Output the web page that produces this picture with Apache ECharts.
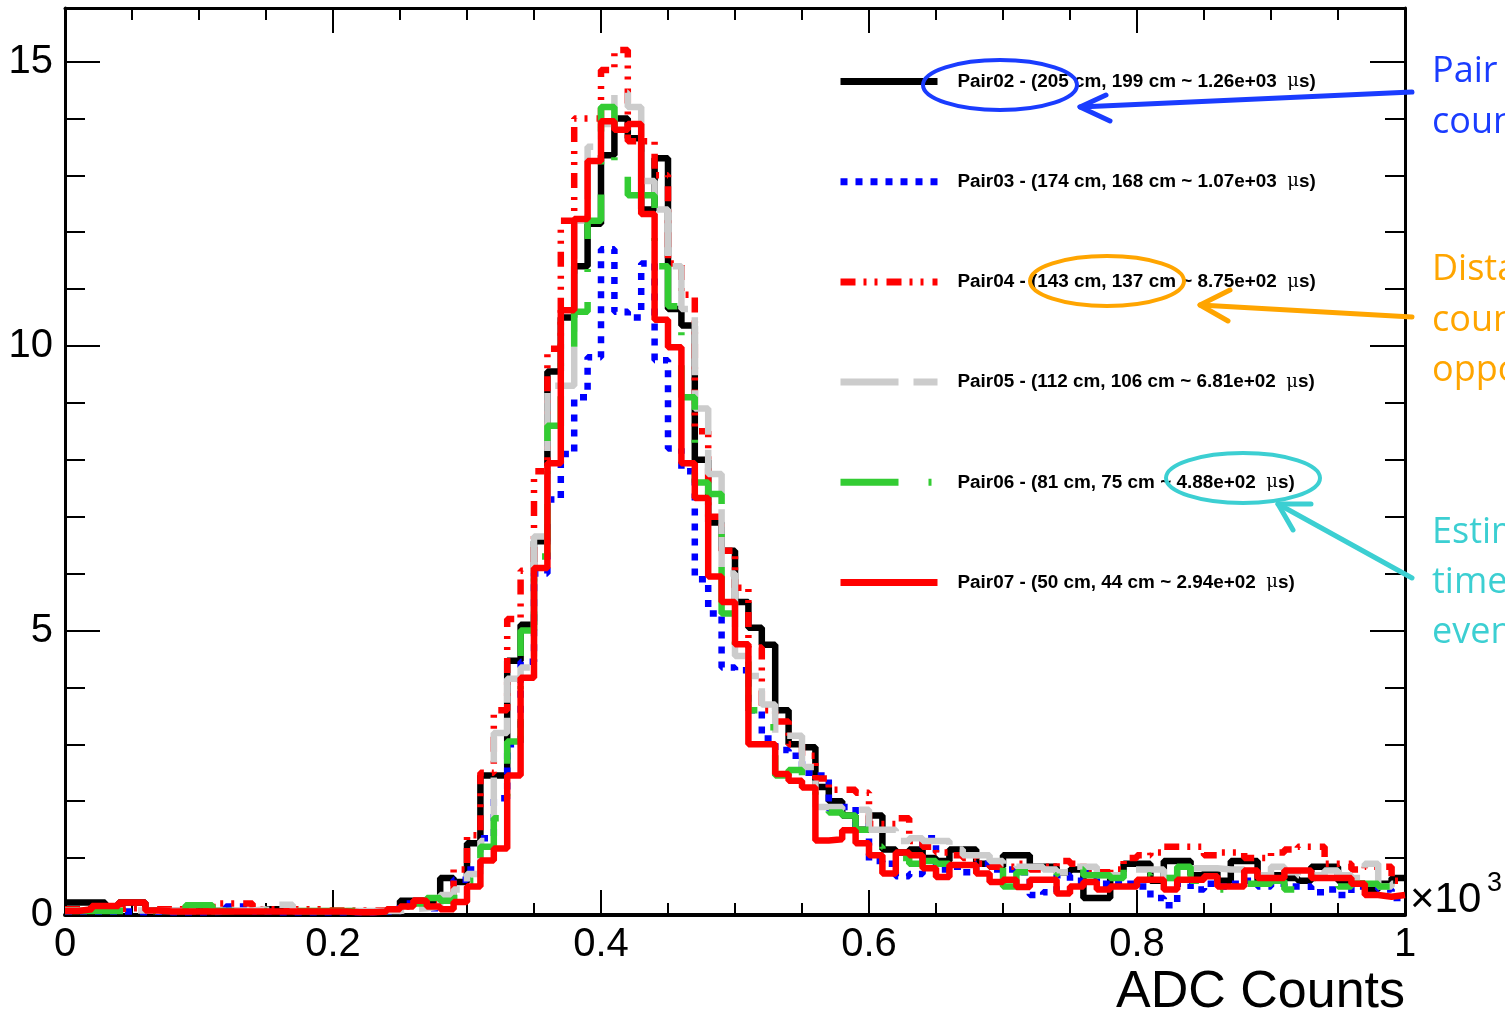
<!DOCTYPE html>
<html>
<head>
<meta charset="utf-8">
<script src="https://cdn.jsdelivr.net/npm/echarts/dist/echarts.min.js"></script>
<style>
html, body { margin: 0; padding: 0; background: #fff; }
#chart { width: 1505px; height: 1015px; }
</style>
</head>
<body>
<div id="chart"></div>
<script>
// 100 bins of 0.01 on [0, 1] (x10^3 ADC counts)
var binWidth = 0.01;

var pair02 = [0.22,0.22,0.22,0.12,0.22,0.22,0.08,0.07,0.07,0.06,0.07,0.07,0.07,0.06,0.06,0.1,0.1,0.06,0.06,0.06,0.06,0.06,0.06,0.07,0.08,0.25,0.25,0.25,
  0.65,0.58,1.26,2.45,2.45,4.47,5.1,6.57,9.55,10.5,11.4,12.15,13.35,14.0,13.65,12.4,13.3,10.65,10.36,8.0,6.9,6.4,5.5,5.05,4.75,3.6,3.0,2.95,2.25,2.0,1.75,1.5,1.75,
  1.15,1.1,1.15,1.0,0.95,1.15,1.15,0.9,0.85,1.05,1.05,0.85,0.85,0.75,0.8,0.3,0.3,0.7,0.9,0.9,0.6,0.95,0.95,0.7,0.75,0.6,0.95,0.95,0.6,0.7,0.65,0.6,0.85,0.85,0.6,0.55,0.45,0.55,0.65];

var pair03 = [0.06,0.06,0.06,0.06,0.06,0.05,0.06,0.05,0.05,0.05,0.05,0.06,0.15,0.15,0.06,0.05,0.05,0.05,0.05,0.05,0.05,0.05,0.05,0.06,0.06,0.2,0.22,0.12,
  0.3,0.62,0.8,1.35,2.05,3.0,4.45,6.0,7.3,8.1,9.1,9.8,11.7,10.6,10.5,11.45,9.75,8.2,7.8,5.9,5.3,4.35,4.3,3.6,3.1,2.9,2.8,2.5,2.45,1.85,1.9,1.55,0.95,
  0.9,0.68,0.72,1.35,0.8,0.85,0.75,0.9,0.8,0.8,0.75,0.35,0.4,0.7,0.6,0.75,0.55,0.6,0.55,0.5,0.3,0.17,0.55,0.45,0.55,0.5,0.55,0.6,0.5,0.55,0.5,0.5,0.4,0.45,0.35,0.5,0.5,0.45,0.3];

var pair04 = [0.1,0.1,0.1,0.1,0.12,0.12,0.1,0.1,0.1,0.1,0.1,0.2,0.2,0.2,0.1,0.1,0.1,0.1,0.1,0.08,0.08,0.08,0.08,0.08,0.1,0.15,0.25,0.25,
  0.3,0.8,1.4,2.5,3.6,5.2,6.05,7.8,9.95,12.2,14.0,14.0,14.85,15.2,13.6,13.6,13.0,11.45,10.9,8.5,7.0,6.4,5.75,4.7,3.6,3.4,3.0,2.8,2.4,2.2,2.2,2.15,1.6,
  1.6,1.7,1.3,1.2,1.1,1.05,1.0,0.9,0.85,0.85,0.9,0.8,0.85,0.95,0.9,0.8,0.75,0.8,1.0,1.05,1.1,1.2,1.2,1.2,1.05,1.1,1.1,1.0,1.0,1.1,1.15,1.2,1.2,0.9,0.9,0.8,0.85,0.85,0.6];

var pair05 = [0.08,0.08,0.08,0.08,0.08,0.08,0.07,0.07,0.07,0.07,0.07,0.07,0.08,0.08,0.1,0.18,0.18,0.07,0.07,0.07,0.07,0.07,0.07,0.07,0.07,0.1,0.12,0.15,
  0.35,0.45,0.72,1.3,3.2,4.15,4.35,6.65,9.3,9.3,12.2,13.5,13.9,14.45,14.2,12.9,12.4,11.4,10.65,8.9,7.75,6.0,4.55,4.2,3.7,3.15,3.15,2.6,1.9,1.9,1.85,1.85,1.5,
  1.5,1.3,1.35,1.3,1.3,1.15,1.05,1.05,0.95,0.9,0.85,0.85,0.8,0.75,0.85,0.85,0.7,0.7,0.8,0.8,0.8,0.65,0.82,0.82,0.82,0.8,0.8,0.7,0.7,0.85,0.75,0.7,0.7,0.78,0.7,0.65,0.9,0.5,0.55];

var pair06 = [0.07,0.07,0.07,0.07,0.07,0.07,0.07,0.07,0.1,0.17,0.17,0.07,0.07,0.07,0.07,0.07,0.07,0.07,0.07,0.07,0.07,0.07,0.07,0.07,0.07,0.12,0.2,0.3,
  0.25,0.3,0.6,1.2,1.7,3.05,5.0,6.3,8.6,9.85,10.6,12.2,14.2,13.2,12.65,12.65,11.4,10.7,9.1,7.6,7.4,5.3,4.45,3.6,3.3,2.45,2.55,2.2,1.9,1.8,1.75,1.5,1.2,
  1.1,1.0,0.9,0.95,0.9,0.85,0.8,0.85,0.85,0.5,0.75,0.7,0.7,0.75,0.8,0.7,0.7,0.65,0.8,0.7,0.55,0.65,0.85,0.6,0.6,0.45,0.45,0.55,0.55,0.6,0.45,0.6,0.65,0.65,0.5,0.55,0.55,0.5,0.6];

var pair07 = [0.07,0.1,0.16,0.16,0.22,0.22,0.08,0.06,0.06,0.06,0.06,0.06,0.06,0.06,0.06,0.06,0.06,0.06,0.06,0.06,0.06,0.05,0.05,0.06,0.1,0.15,0.25,0.15,
  0.1,0.23,0.5,0.96,1.17,2.45,4.17,6.1,7.94,10.63,12.23,13.25,13.95,13.8,13.9,12.32,10.46,9.98,7.94,7.33,5.95,5.5,4.76,3.0,3.0,2.48,2.36,2.24,1.31,1.33,1.49,1.26,1.05,
  0.73,1.1,1.05,0.82,0.67,0.88,0.88,0.73,0.58,0.62,0.49,0.62,0.62,0.38,0.5,0.58,
  0.45,0.5,0.5,0.62,0.62,0.45,0.62,0.62,0.68,0.5,0.5,0.78,0.65,0.65,0.78,0.78,0.65,0.65,0.65,0.55,0.35,0.32,0.35];

var seriesNames = [
  'Pair02 - (205 cm, 199 cm ~ 1.26e+03  μs)',
  'Pair03 - (174 cm, 168 cm ~ 1.07e+03  μs)',
  'Pair04 - (143 cm, 137 cm ~ 8.75e+02  μs)',
  'Pair05 - (112 cm, 106 cm ~ 6.81e+02  μs)',
  'Pair06 - (81 cm, 75 cm ~ 4.88e+02  μs)',
  'Pair07 - (50 cm, 44 cm ~ 2.94e+02  μs)'
];
var seriesValues = [pair02, pair03, pair04, pair05, pair06, pair07];
var seriesColors = ['#000000', '#0000ff', '#ff0000', '#cccccc', '#33cc33', '#ff0000'];
var seriesDash = ['solid', [7, 8], [15, 8, 3, 8, 3, 9], [58, 15], [58, 30, 3, 30], 'solid'];

var yMax = 15.94;
var font = '"Liberation Sans", Arial, Helvetica, sans-serif';

// histogram -> points at bin low edges plus the closing edge
function histData(values) {
  var pts = values.map(function (v, i) { return [+(i * binWidth).toFixed(2), v]; });
  pts.push([1, values[values.length - 1]]);
  return pts;
}

function xAxisDef(pos, showLabel) {
  return {
    type: 'value', position: pos, min: 0, max: 1, interval: 0.2,
    axisLine: { show: true, onZero: false, lineStyle: { color: '#000', width: pos === 'bottom' ? 4 : 3 } },
    axisTick: { show: true, inside: true, length: 25, lineStyle: { color: '#000', width: 2 } },
    minorTick: { show: true, splitNumber: 4, length: 12, lineStyle: { color: '#000', width: 2 } },
    splitLine: { show: false },
    minorSplitLine: { show: false },
    axisLabel: {
      show: showLabel, color: '#000', fontFamily: font, fontSize: 40, margin: 10,
      formatter: function (v) { return String(+v.toFixed(2)); }
    }
  };
}

function yAxisDef(pos, major, showLabel) {
  return {
    type: 'value', position: pos, min: 0, max: yMax, interval: major ? 5 : 1,
    axisLine: { show: major, onZero: false, lineStyle: { color: '#000', width: 3 } },
    axisTick: { show: true, inside: true, length: major ? 35 : 20, lineStyle: { color: '#000', width: 2 } },
    splitLine: { show: false },
    axisLabel: {
      show: showLabel, color: '#000', fontFamily: font, fontSize: 40, margin: 12,
      formatter: function (v) { return (Math.abs(v % 5) < 1e-6) ? String(v) : ''; }
    }
  };
}

var chart = echarts.init(document.getElementById('chart'));

var series = seriesValues.map(function (vals, k) {
  return {
    name: seriesNames[k],
    type: 'line',
    step: 'end',
    data: histData(vals),
    symbol: 'none',
    silent: true,
    lineStyle: { color: seriesColors[k], width: 6.5, type: seriesDash[k] },
    itemStyle: { color: seriesColors[k] },
    z: 2 + k
  };
});

var annText = function (x, y, s, color) {
  return { type: 'text', x: x, y: y, z: 50,
    style: { text: s, fill: color, font: '36px "Open Sans", sans-serif', align: 'left', verticalAlign: 'middle' } };
};
var ring = function (cx, cy, color) {
  return { type: 'ellipse', z: 60, shape: { cx: cx, cy: cy, rx: 77, ry: 25 },
    style: { fill: 'none', stroke: color, lineWidth: 4 } };
};
var stroke = function (pts, color) {
  return { type: 'polyline', z: 60, shape: { points: pts },
    style: { fill: 'none', stroke: color, lineWidth: 5, lineCap: 'round', lineJoin: 'round' } };
};

var blue = '#1a3cff', orange = '#ffa500', cyan = '#3ccfd2';

chart.setOption({
  backgroundColor: '#ffffff',
  animation: false,
  grid: { left: 65, right: 100, top: 8, bottom: 100, containLabel: false, outerBoundsMode: 'none' },
  xAxis: [xAxisDef('bottom', true), xAxisDef('top', false)],
  yAxis: [yAxisDef('left', true, true), yAxisDef('left', false, false),
          yAxisDef('right', true, false), yAxisDef('right', false, false)],
  legend: {
    orient: 'vertical', left: 837, top: 72, padding: 0,
    itemWidth: 97, itemHeight: 14, itemGap: 81.2,
    selectedMode: false,
    itemStyle: { opacity: 0 },
    lineStyle: { width: 7 },
    data: seriesNames,
    formatter: function (name) {
      var parts = name.split('μ');
      return '{t|' + parts[0] + '}{u|μ}{t|' + parts[1] + '}';
    },
    textStyle: {
      padding: [0, 0, 0, 15], lineHeight: 14,
      rich: {
        t: { fontFamily: font, fontWeight: 'bold', fontSize: 18.9, color: '#000', lineHeight: 14 },
        u: { fontFamily: '"DejaVu Serif", serif', fontWeight: 'normal', fontSize: 18, color: '#000', lineHeight: 14 }
      }
    }
  },
  series: series,
  graphic: [
    { type: 'text', x: 1405, y: 993, z: 40,
      style: { text: 'ADC Counts', fill: '#000', font: '52px ' + font, align: 'right', verticalAlign: 'middle' } },
    { type: 'text', x: 1410, y: 900, z: 40,
      style: { text: '×10', fill: '#000', font: '42px ' + font, align: 'left', verticalAlign: 'middle' } },
    { type: 'text', x: 1487, y: 884, z: 40,
      style: { text: '3', fill: '#000', font: '27px ' + font, align: 'left', verticalAlign: 'middle' } },

    annText(1432, 72, 'Pair name of', blue),
    annText(1432, 123, 'counters', blue),
    annText(1432, 270, 'Distance of', orange),
    annText(1432, 321, 'counters from', orange),
    annText(1432, 371, 'opposite', orange),
    annText(1432, 533, 'Estimated', cyan),
    annText(1432, 583, 'time between', cyan),
    annText(1432, 633, 'events', cyan),

    ring(1000, 85, blue),
    ring(1107, 281, orange),
    ring(1243, 478, cyan),

    stroke([[1412, 92], [1080, 107]], blue),
    stroke([[1106, 95], [1080, 107], [1110, 121]], blue),
    stroke([[1412, 317], [1200, 305]], orange),
    stroke([[1230, 290], [1200, 305], [1228, 321]], orange),
    stroke([[1412, 578], [1278, 504]], cyan),
    stroke([[1311, 504], [1278, 504], [1293, 530]], cyan)
  ]
});
</script>
</body>
</html>
